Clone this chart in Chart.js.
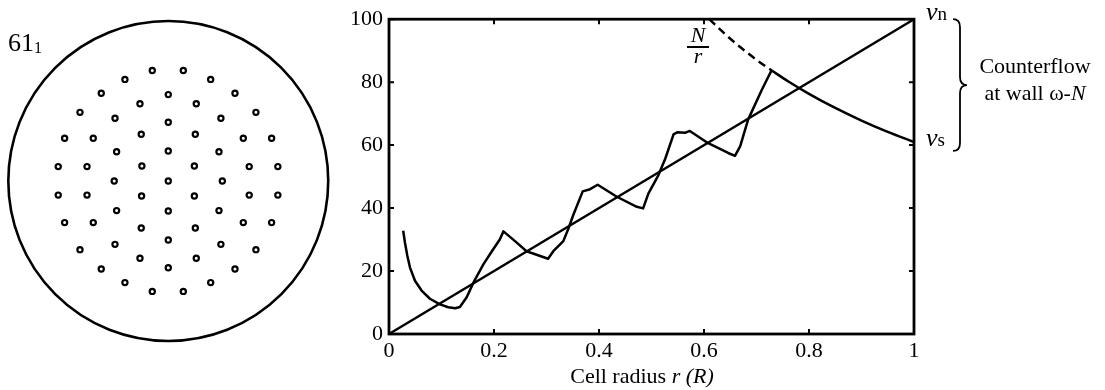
<!DOCTYPE html>
<html>
<head>
<meta charset="utf-8">
<script src="https://cdn.jsdelivr.net/npm/chart.js@4/dist/chart.umd.min.js"></script>
<style>
body{margin:0;background:#fff;}
#wrap{position:relative;width:1105px;height:390px;font-family:"Liberation Serif","Times New Roman",serif;color:#000;}
canvas{position:absolute;top:0;}
.t{position:absolute;line-height:1;white-space:nowrap;font-size:22px;}
</style>
</head>
<body>
<div id="wrap">
<canvas id="lattice" width="330" height="390" style="left:0"></canvas>
<canvas id="flow" width="775" height="390" style="left:330px"></canvas>

<div class="t" style="left:8px;top:30px;font-size:26px">61<span style="font-size:16px;position:relative;top:2px">1</span></div>

<div class="t" style="left:926px;top:-1px;font-size:26px"><i>v</i><span style="font-size:19px">n</span></div>
<div class="t" style="left:926px;top:125px;font-size:26px"><i>v</i><span style="font-size:19px">s</span></div>
<div class="t" style="left:965px;width:140px;top:55px;text-align:center">Counterflow</div>
<div class="t" style="left:965px;width:140px;top:82px;text-align:center">at wall ω-<i>N</i></div>

<div class="t" style="left:678px;width:40px;top:24px;text-align:center"><i>N</i></div>
<div style="position:absolute;left:687px;top:46px;width:22px;height:1.5px;background:#000"></div>
<div class="t" style="left:678px;width:40px;top:45px;text-align:center"><i>r</i></div>

<div class="t" style="left:542px;width:200px;top:365px;text-align:center">Cell radius <i>r (R)</i></div>
</div>

<script>
// vortex positions in the cell (units of the cell radius)
const dotX = [-0.100,0.094, -0.271,0.265, -0.419,0.417, 0, -0.177,0.175, -0.552,0.548, -0.333,0.329, 0,
  -0.169,0.169, -0.648,-0.469,0.469,0.646, 0, -0.323,0.317, -0.165,0.163, -0.688,-0.508,0.506,0.685,
  -0.338,0,0.338, -0.688,-0.508,0.506,0.685, -0.167,0.163, -0.323,0.317, 0, -0.648,-0.469,0.469,0.646,
  -0.169,0.169, 0, -0.333,0.329, -0.552,0.548, -0.177,0.175, 0, -0.419,0.417, -0.271,0.265, -0.100,0.094]
const dotY = [0.690,0.690, 0.635,0.635, 0.548,0.548, 0.540, 0.483,0.483, 0.429,0.429, 0.392,0.392, 0.367,
  0.292,0.292, 0.267,0.267,0.267,0.267, 0.1875, 0.183,0.183, 0.094,0.094, 0.090,0.090,0.090,0.090,
  0,0,0, -0.088,-0.088,-0.088,-0.088, -0.094,-0.094, -0.185,-0.185, -0.1875, -0.260,-0.260,-0.260,-0.260,
  -0.294,-0.294, -0.369, -0.396,-0.396, -0.429,-0.429, -0.483,-0.483, -0.542, -0.550,-0.550, -0.635,-0.635, -0.690,-0.690]
const wallX = [0]
const wallY = [0]

// right panel
const diagR = [0, 1]
const diagV = [0, 100]
const sawR = [0.027,0.0305,0.035,0.040,0.0495,0.062,0.078,0.097,0.113,0.126,0.135,0.148,0.161,0.18,0.196,0.211,0.218,
  0.24,0.262,0.303,0.313,0.332,0.342,0.351,0.369,0.383,0.3975,0.434,0.472,0.484,0.494,0.513,0.526,0.542,0.549,0.564,0.573,
  0.608,0.646,0.659,0.669,0.684,0.71,0.7225,0.729]
const sawV = [32.8,28.9,24.8,21.1,16.9,13.8,11.2,9.4,8.5,8.2,8.6,11.7,16.4,22.2,26.3,30.0,32.6,
  29.5,26.3,23.9,26.3,29.5,33.6,37.8,45.3,46.0,47.4,43.6,40.4,39.9,44.6,50.4,55.6,63.4,64.1,63.9,64.5,
  60.6,57.5,56.6,59.7,68.1,77.5,81.7,83.8]
const nDashR = [0.61, 0.64, 0.67, 0.70, 0.729]
const nDashV = [100, 95.3, 91.0, 87.1, 83.7]
const nR = [0.729, 0.76, 0.80, 0.85, 0.90, 0.95, 1.0]
const nV = [83.7, 80.3, 76.3, 71.8, 67.8, 64.2, 61]
const xTickLabels = ['0','0.2','0.4','0.6','0.8','1']
const yTickLabels = ['0','20','40','60','80','100']

const pts = (xs, ys) => xs.map((x, i) => ({x: x, y: ys[i]}))
const serif = '"Liberation Serif", "Times New Roman", serif'

new Chart(document.getElementById('lattice'), {
  type: 'scatter',
  data: {
    datasets: [{
      data: pts(wallX, wallY),
      pointRadius: c => c.chart.scales.x.getPixelForValue(1) - c.chart.scales.x.getPixelForValue(0),
      pointBorderWidth: 2.6,
      pointBorderColor: '#000',
      pointBackgroundColor: 'rgba(0,0,0,0)',
      clip: false
    }, {
      data: pts(dotX, dotY),
      pointRadius: 2.6,
      pointBorderWidth: 2.2,
      pointBorderColor: '#000',
      pointBackgroundColor: '#fff',
      clip: false
    }]
  },
  options: {
    responsive: false,
    animation: false,
    events: [],
    layout: {padding: 0, autoPadding: false},
    plugins: {legend: {display: false}, tooltip: {enabled: false}},
    scales: {
      x: {type: 'linear', display: false, min: -1.052, max: 1.011},
      y: {type: 'linear', display: false, min: -1.306, max: 1.131}
    }
  }
})

// box, inward ticks on all four sides, and the brace on the right
const frame = {
  id: 'frame',
  afterDatasetsDraw(chart) {
    const {ctx, chartArea: a, scales: {x, y}} = chart
    ctx.save()
    ctx.strokeStyle = '#000'
    ctx.lineWidth = 2.8
    ctx.strokeRect(a.left, a.top, a.right - a.left, a.bottom - a.top)
    ctx.lineWidth = 2
    ctx.beginPath()
    x.ticks.forEach(t => {
      const p = x.getPixelForValue(t.value)
      ctx.moveTo(p, a.bottom); ctx.lineTo(p, a.bottom - 5)
      ctx.moveTo(p, a.top); ctx.lineTo(p, a.top + 5)
    })
    y.ticks.forEach(t => {
      const p = y.getPixelForValue(t.value)
      ctx.moveTo(a.left, p); ctx.lineTo(a.left + 5, p)
      ctx.moveTo(a.right, p); ctx.lineTo(a.right - 5, p)
    })
    ctx.stroke()

    const top = y.getPixelForValue(100)
    const bot = y.getPixelForValue(61) + 9
    const mid = (top + bot) / 2
    const x0 = a.right + 39, sp = x0 + 7, tip = x0 + 14
    ctx.lineWidth = 1.8
    ctx.beginPath()
    ctx.moveTo(x0, top)
    ctx.quadraticCurveTo(sp, top, sp, top + 8)
    ctx.lineTo(sp, mid - 8)
    ctx.quadraticCurveTo(sp, mid, tip, mid)
    ctx.quadraticCurveTo(sp, mid, sp, mid + 8)
    ctx.lineTo(sp, bot - 8)
    ctx.quadraticCurveTo(sp, bot, x0, bot)
    ctx.stroke()
    ctx.restore()
  }
}

const line = (data, extra) => Object.assign({
  data: data, borderColor: '#000', borderWidth: 2.5, pointRadius: 0, fill: false, clip: false
}, extra)

new Chart(document.getElementById('flow'), {
  type: 'line',
  data: {
    datasets: [
      line(pts(diagR, diagV), {tension: 0}),
      line(pts(sawR, sawV), {tension: 0, borderJoinStyle: 'round'}),
      line(pts(nDashR, nDashV), {cubicInterpolationMode: 'monotone', borderDash: [8, 5]}),
      line(pts(nR, nV), {cubicInterpolationMode: 'monotone'})
    ]
  },
  options: {
    responsive: false,
    animation: false,
    events: [],
    layout: {padding: {top: 15, right: 191, left: 0, bottom: 0}, autoPadding: false},
    plugins: {legend: {display: false}, tooltip: {enabled: false}},
    scales: {
      x: {
        type: 'linear', min: 0, max: 1,
        grid: {display: false, drawTicks: false},
        border: {display: false},
        ticks: {stepSize: 0.2, color: '#000', font: {family: serif, size: 22}, padding: 4,
          maxRotation: 0, autoSkip: false, callback: (v, i) => xTickLabels[i]},
        afterFit: s => { s.height = 56 }
      },
      y: {
        type: 'linear', min: 0, max: 100,
        grid: {display: false, drawTicks: false},
        border: {display: false},
        ticks: {stepSize: 20, color: '#000', font: {family: serif, size: 22}, padding: 6,
          callback: (v, i) => yTickLabels[i]},
        afterFit: s => { s.width = 59 }
      }
    }
  },
  plugins: [frame]
})
</script>
</body>
</html>
